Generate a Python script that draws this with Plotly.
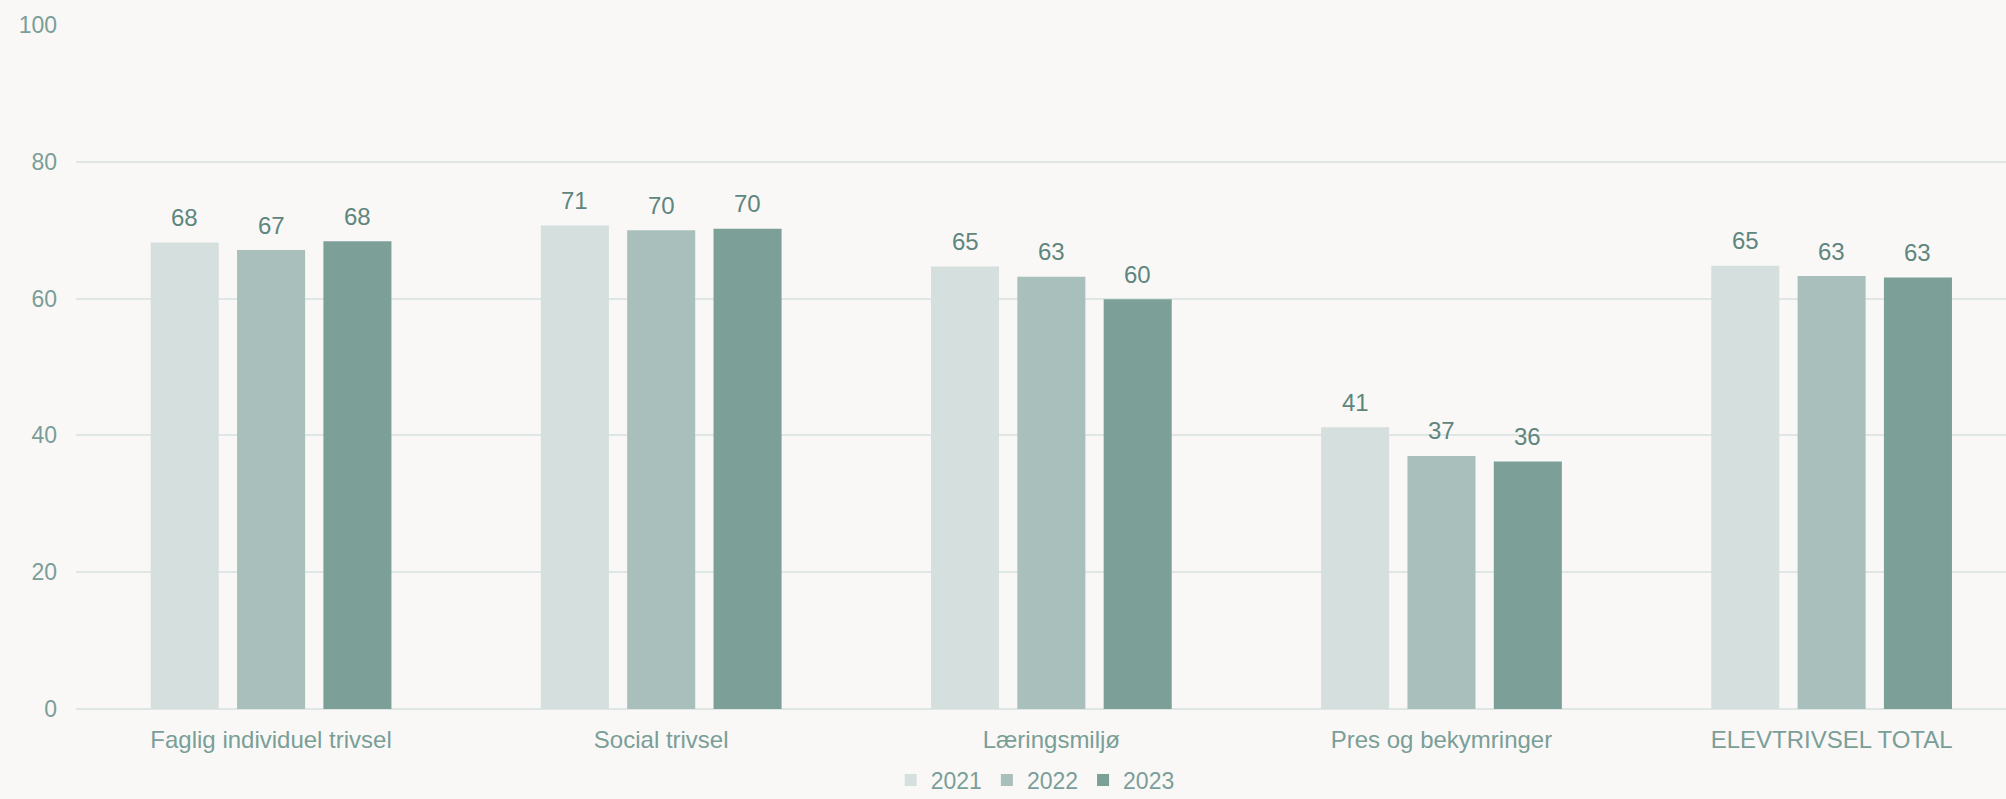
import plotly.graph_objects as go

categories = ["Faglig individuel trivsel", "Social trivsel", "Læringsmiljø",
              "Pres og bekymringer", "ELEVTRIVSEL TOTAL"]
years = ["2021", "2022", "2023"]
v2021 = [68.2, 70.7, 64.7, 41.2, 64.8]
v2022 = [67.1, 70.0, 63.2, 37.0, 63.3]
v2023 = [68.4, 70.2, 59.9, 36.2, 63.1]
series = [v2021, v2022, v2023]
colors = ["#d5dfde", "#a9bfbb", "#7c9f98"]

yticks = [0, 20, 40, 60, 80, 100]

FONT = "Arial, 'Liberation Sans', sans-serif"
BG = "#f9f8f6"
TICK_COLOR = "#7a9e98"
LABEL_COLOR = "#5e867e"

fig = go.Figure()
for name, vals, col in zip(years, series, colors):
    fig.add_trace(go.Bar(
        name=name, x=categories, y=vals,
        marker=dict(color=col, line=dict(width=0)),
        hoverinfo="skip",
    ))

# data labels
slot_px = 86.3
for i, vals in enumerate(series):
    for cat, v in zip(categories, vals):
        fig.add_annotation(
            x=cat, y=v, text=f"{v:.0f}", showarrow=False,
            xshift=(i - 1) * slot_px, yshift=25, yanchor="middle",
            font=dict(family=FONT, size=24, color=LABEL_COLOR),
        )

fig.update_layout(
    width=2006, height=799,
    margin=dict(l=76, r=0, t=25, b=90, autoexpand=False),
    paper_bgcolor=BG, plot_bgcolor=BG,
    barmode="group", bargap=0.336, bargroupgap=0.212,
    font=dict(family=FONT, size=23, color=TICK_COLOR),
    legend=dict(orientation="h", x=0.497, xanchor="center",
                y=-0.104, yanchor="middle",
                font=dict(family=FONT, size=23, color=TICK_COLOR),
                bgcolor="rgba(0,0,0,0)", itemclick=False),
    showlegend=True,
)
fig.update_xaxes(
    range=[-0.5, 4.447], showgrid=False, showline=False, zeroline=False,
    tickfont=dict(family=FONT, size=24, color=TICK_COLOR), ticks="", ticklabelstandoff=14,
    automargin=False,
)
fig.update_yaxes(
    range=[0, 100], tickvals=yticks, showgrid=True, gridcolor="#dfe7e6", gridwidth=2,
    zeroline=True, zerolinecolor="#dfe7e6", zerolinewidth=2, showline=False,
    tickfont=dict(family=FONT, size=23, color=TICK_COLOR), ticks="", ticklabelstandoff=18,
    automargin=False,
)
fig.write_html(
    "out.html",
    config={"displayModeBar": False},
    post_script="document.body.style.margin='0';document.body.style.background='%s';" % BG,
)
